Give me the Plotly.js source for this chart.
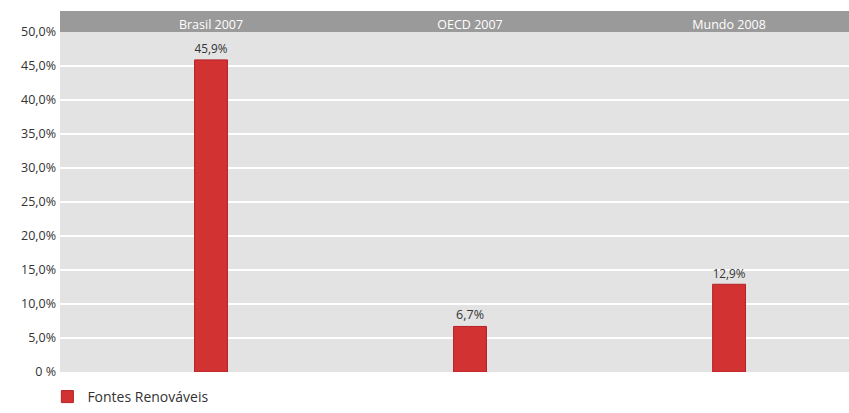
<!DOCTYPE html>
<html>
<head>
<meta charset="utf-8">
<script src="https://cdn.plot.ly/plotly-3.0.1.min.js"></script>
<style>html,body{margin:0;padding:0;background:#fff;}#chart{width:849px;height:413px;}</style>
</head>
<body>
<div id="chart"></div>
<script>
const categories = ["Brasil 2007", "OECD 2007", "Mundo 2008"];
const renovaveis = [45.9, 6.7, 12.9];
const valueLabels = ["45,9%", "6,7%", "12,9%"];
const seriesName = "Fontes Renováveis";
const yTickVals = [0, 5, 10, 15, 20, 25, 30, 35, 40, 45, 50];
const yTickText = ["0 %", "5,0%", "10,0%", "15,0%", "20,0%", "25,0%", "30,0%", "35,0%", "40,0%", "45,0%", "50,0%"];

const FONT = "Open Sans, Liberation Sans, sans-serif";

const trace = {
  type: "bar",
  x: categories,
  y: renovaveis,
  name: seriesName,
  width: 0.127,
  marker: {color: "#d23232", line: {color: "#b52228", width: 1}},
  text: valueLabels,
  textposition: "outside",
  cliponaxis: false,
  textfont: {family: FONT, size: 12.5, color: "#333"},
  hoverinfo: "none"
};

const layout = {
  width: 849, height: 413,
  margin: {l: 60, r: 0, t: 32, b: 40},
  paper_bgcolor: "#ffffff",
  plot_bgcolor: "#e3e3e3",
  font: {family: FONT, size: 12, color: "#333"},
  showlegend: true,
  legend: {orientation: "h", x: -0.016, xanchor: "left", y: -0.025, yanchor: "top",
           font: {family: FONT, size: 14, color: "#333"}, bgcolor: "rgba(0,0,0,0)"},
  xaxis: {
    type: "category",
    range: [-0.583, 2.463],
    side: "top",
    showgrid: false, zeroline: false, showline: false,
    ticks: "", ticklabelstandoff: 0,
    tickfont: {family: FONT, size: 12.5, color: "#ffffff"},
    fixedrange: true
  },
  yaxis: {
    range: [0, 50],
    tickvals: yTickVals,
    ticktext: yTickText,
    showgrid: true, gridcolor: "#ffffff", gridwidth: 2,
    zeroline: false, showline: false, ticks: "",
    ticklabelstandoff: 3,
    tickfont: {family: FONT, size: 12.5, color: "#333"},
    fixedrange: true
  },
  shapes: [{
    type: "rect", xref: "paper", yref: "paper",
    x0: 0, x1: 1, y0: 1, y1: 1 + 21/341,
    fillcolor: "#9a9a9a", line: {width: 0}, layer: "below"
  }],
  bargap: 0.5
};

Plotly.newPlot("chart", [trace], layout, {displayModeBar: false, staticPlot: true});
</script>
</body>
</html>
